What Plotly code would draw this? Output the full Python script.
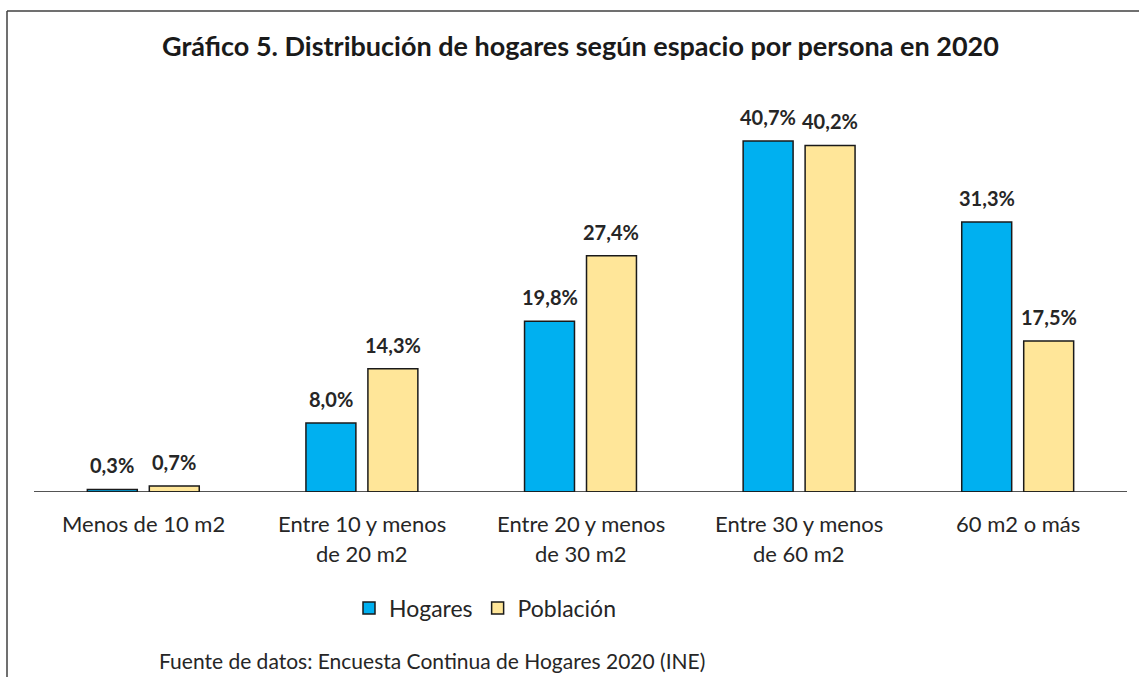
import plotly.graph_objects as go

categories = ["Menos de 10 m2", "Entre 10 y menos<br>de 20 m2", "Entre 20 y menos<br>de 30 m2",
              "Entre 30 y menos<br>de 60 m2", "60 m2 o más"]
hogares = [0.3, 8.0, 19.8, 40.7, 31.3]
poblacion = [0.7, 14.3, 27.4, 40.2, 17.5]
series_names = ["Hogares", "Población"]

FONT = "Lato"
BLUE = "#00B0F0"
YELLOW = "#FFE699"

W, H = 1139, 677
ML, MR, MT, MB = 34, 12, 104, 185
plot_w = W - ML - MR
plot_h = H - MT - MB

fig = go.Figure()
for name, vals, col in [(series_names[0], hogares, BLUE), (series_names[1], poblacion, YELLOW)]:
    fig.add_trace(go.Bar(
        name=name, x=list(range(len(categories))), y=vals,
        marker=dict(color=col, line=dict(color="#1a1a1a", width=1.5)),
        hoverinfo="y",
    ))

bargap = 0.433
bargroupgap = 0.194
slot = (1 - bargap) / 2

def fmt(v):
    return f"{v:.1f}".replace(".", ",") + "%"

annotations = []
for k, vals in enumerate([hogares, poblacion]):
    off = -slot / 2 if k == 0 else slot / 2
    for i, v in enumerate(vals):
        annotations.append(dict(
            x=i + off, y=v, xref="x", yref="y", text=fmt(v), showarrow=False,
            yshift=24, yanchor="middle",
            font=dict(family=FONT, size=20, color="#262626", weight="bold"),
        ))

for i, c in enumerate(categories):
    lines = c.split("<br>")
    for j, ln in enumerate(lines):
        annotations.append(dict(
            x=i, y=0, xref="x", yref="y", text=ln, showarrow=False,
            yshift=-(31 + 30 * j), yanchor="middle",
            font=dict(family=FONT, size=22, color="#262626"),
        ))

annotations.append(dict(
    x=(432 - ML) / plot_w, y=(492 - 660) / plot_h, xref="paper", yref="paper",
    text="Fuente de datos: Encuesta Continua de Hogares 2020 (INE)", showarrow=False,
    xanchor="center", yanchor="middle",
    font=dict(family=FONT, size=21, color="#262626"),
))

bx = (7 - ML) / plot_w
by = (492 - 11) / plot_h
shapes = [
    dict(type="line", xref="paper", yref="paper", x0=bx, x1=bx, y0=by, y1=(492 - 700) / plot_h,
         line=dict(color="#404040", width=1.5)),
    dict(type="line", xref="paper", yref="paper", x0=bx, x1=1.2, y0=by, y1=by,
         line=dict(color="#404040", width=1.5)),
]

fig.update_layout(
    width=W, height=H,
    margin=dict(l=ML, r=MR, t=MT, b=MB),
    paper_bgcolor="white", plot_bgcolor="white",
    barmode="group", bargap=bargap, bargroupgap=bargroupgap,
    title=dict(text="<b>Gráfico 5. Distribución de hogares según espacio por persona en 2020</b>",
               x=0.5, xref="paper", xanchor="center", y=1 - 47 / H, yanchor="middle",
               font=dict(family=FONT, size=27, color="#1a1a1a")),
    xaxis=dict(showticklabels=False, showgrid=False, zeroline=False, showline=False,
               range=[-0.5, len(categories) - 0.5], fixedrange=True),
    yaxis=dict(range=[0, 45], visible=False, showgrid=False, zeroline=True,
               zerolinecolor="#1a1a1a", zerolinewidth=1.5),
    legend=dict(orientation="h", x=(485 - ML) / plot_w, xanchor="center",
                y=(492 - 608) / plot_h, yanchor="middle",
                font=dict(family=FONT, size=23, color="#262626"),
                itemwidth=30, tracegroupgap=0),
    annotations=annotations,
    shapes=shapes,
    showlegend=True,
)

fig.add_shape(type="line", xref="paper", yref="y", x0=0, x1=1, y0=0, y1=0,
              line=dict(color="#1a1a1a", width=1.5), layer="above")

fig.write_html("out.html", config={"displayModeBar": False},
               post_script="document.body.style.margin='0';document.body.style.overflow='hidden';")
